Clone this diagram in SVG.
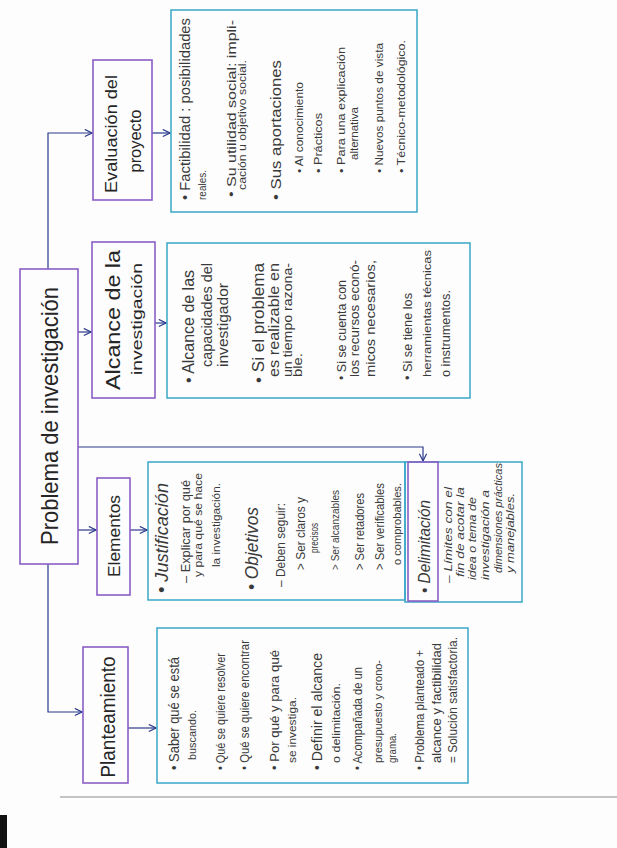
<svg xmlns="http://www.w3.org/2000/svg" width="617" height="848" viewBox="0 0 617 848">
<defs>
<marker id="ah" viewBox="0 0 10 10" refX="9" refY="5" markerWidth="9" markerHeight="9" orient="auto" markerUnits="userSpaceOnUse">
<path d="M1,1 L9,5 L1,9" fill="none" stroke="#2b3a8c" stroke-width="1.3"/>
</marker>
<style>
.pb{fill:none;stroke:#8a5ec4;stroke-width:1.6}
.cb{fill:none;stroke:#3aa6c8;stroke-width:1.5}
.cn{fill:none;stroke:#2b3a8c;stroke-width:1.2}
text{font-family:"Liberation Sans","DejaVu Sans",sans-serif;fill:#3a3a3a}
.t{fill:#262626}
.i{font-style:italic}
</style>
</defs>
<rect x="0" y="0" width="617" height="848" fill="#fdfdfd"/>
<line x1="60" y1="797" x2="617" y2="797" stroke="#c4c4c4" stroke-width="2"/>
<rect x="0" y="815" width="7" height="33" fill="#111"/>

<g id="connectors">
<path class="cn" d="M48,269 V133 H92" marker-end="url(#ah)"/>
<path class="cn" d="M48,564 V712 H82" marker-end="url(#ah)"/>
<path class="cn" d="M78,332 H91" marker-end="url(#ah)"/>
<path class="cn" d="M78,530 H96" marker-end="url(#ah)"/>
<path class="cn" d="M78,447 H423 V461" marker-end="url(#ah)"/>
<path class="cn" d="M152,133 H170" marker-end="url(#ah)"/>
<path class="cn" d="M155,323 H166" marker-end="url(#ah)"/>
<path class="cn" d="M130,530 H147" marker-end="url(#ah)"/>
<path class="cn" d="M128,728 H156" marker-end="url(#ah)"/>
</g>

<g id="problema">
<rect class="pb" x="20" y="269" width="58" height="295"/>
<g transform="rotate(-90)">
<text class="t" x="-416" y="58" font-size="24" text-anchor="middle" textLength="258" lengthAdjust="spacingAndGlyphs">Problema de investigación</text>
</g>
</g>

<g id="evaluacion">
<rect class="pb" x="93" y="60" width="59" height="140"/>
<g transform="rotate(-90)" font-size="16">
<text class="t" x="-134" y="117" text-anchor="middle" textLength="118" lengthAdjust="spacingAndGlyphs">Evaluación del</text>
<text class="t" x="-141" y="141" text-anchor="middle" textLength="63" lengthAdjust="spacingAndGlyphs">proyecto</text>
</g>
</g>

<g id="evaluacion-detalle">
<rect class="cb" x="171" y="10" width="246" height="202"/>
<g transform="rotate(-90)">
<text x="-200" y="190" font-size="14" textLength="182" lengthAdjust="spacingAndGlyphs">• Factibilidad : posibilidades</text>
<text x="-200" y="206" font-size="11" textLength="30" lengthAdjust="spacingAndGlyphs">reales.</text>
<text x="-197" y="236" font-size="13" textLength="177" lengthAdjust="spacingAndGlyphs">• Su utilidad social: impli-</text>
<text x="-190" y="246" font-size="10" textLength="130" lengthAdjust="spacingAndGlyphs">cación u objetivo social.</text>
<text x="-200" y="281" font-size="15" textLength="140" lengthAdjust="spacingAndGlyphs">• Sus aportaciones</text>
<text x="-173" y="303" font-size="11" textLength="91" lengthAdjust="spacingAndGlyphs">• Al conocimiento</text>
<text x="-173" y="322" font-size="11" textLength="60" lengthAdjust="spacingAndGlyphs">• Prácticos</text>
<text x="-173" y="345" font-size="11" textLength="126" lengthAdjust="spacingAndGlyphs">• Para una explicación</text>
<text x="-160" y="358" font-size="10" textLength="53" lengthAdjust="spacingAndGlyphs">alternativa</text>
<text x="-173" y="383" font-size="11" textLength="130" lengthAdjust="spacingAndGlyphs">• Nuevos puntos de vista</text>
<text x="-173" y="405" font-size="11" textLength="133" lengthAdjust="spacingAndGlyphs">• Técnico-metodológico.</text>
</g>
</g>

<g id="alcance">
<rect class="pb" x="92" y="242" width="63" height="156"/>
<g transform="rotate(-90)">
<text class="t" x="-320" y="120" font-size="20" text-anchor="middle" textLength="140" lengthAdjust="spacingAndGlyphs">Alcance de la</text>
<text class="t" x="-319" y="142" font-size="15" text-anchor="middle" textLength="112" lengthAdjust="spacingAndGlyphs">investigación</text>
</g>
</g>

<g id="alcance-detalle">
<rect class="cb" x="167" y="243" width="303" height="155"/>
<g transform="rotate(-90)">
<text x="-383" y="194" font-size="17" textLength="113" lengthAdjust="spacingAndGlyphs">• Alcance de las</text>
<text x="-367" y="212" font-size="14" textLength="104" lengthAdjust="spacingAndGlyphs">capacidades del</text>
<text x="-367" y="228" font-size="14" textLength="84" lengthAdjust="spacingAndGlyphs">investigador</text>
<text x="-383" y="264" font-size="17" textLength="120" lengthAdjust="spacingAndGlyphs">• Si el problema</text>
<text x="-377" y="279" font-size="14" textLength="114" lengthAdjust="spacingAndGlyphs">es realizable en</text>
<text x="-377" y="292" font-size="13" textLength="114" lengthAdjust="spacingAndGlyphs">un tiempo razona-</text>
<text x="-377" y="302" font-size="13" textLength="24" lengthAdjust="spacingAndGlyphs">ble.</text>
<text x="-380" y="346" font-size="13" textLength="100" lengthAdjust="spacingAndGlyphs">• Si se cuenta con</text>
<text x="-377" y="359" font-size="12" textLength="117" lengthAdjust="spacingAndGlyphs">los recursos econó-</text>
<text x="-377" y="375" font-size="12" textLength="117" lengthAdjust="spacingAndGlyphs">micos necesarios,</text>
<text x="-380" y="412" font-size="13" textLength="87" lengthAdjust="spacingAndGlyphs">• Si se tiene los</text>
<text x="-377" y="431" font-size="11" textLength="127" lengthAdjust="spacingAndGlyphs">herramientas técnicas</text>
<text x="-377" y="450" font-size="12" textLength="87" lengthAdjust="spacingAndGlyphs">o instrumentos.</text>
</g>
</g>

<g id="elementos">
<rect class="pb" x="97" y="478" width="33" height="117"/>
<g transform="rotate(-90)">
<text class="t" x="-536" y="120" font-size="17" text-anchor="middle" textLength="82" lengthAdjust="spacingAndGlyphs">Elementos</text>
</g>
</g>

<g id="elementos-detalle">
<rect class="cb" x="148" y="462" width="257" height="138"/>
<g transform="rotate(-90)">
<text class="i" x="-593" y="168" font-size="18" textLength="110" lengthAdjust="spacingAndGlyphs">• Justificación</text>
<text x="-583" y="190" font-size="13" textLength="103" lengthAdjust="spacingAndGlyphs">– Explicar por qué</text>
<text x="-577" y="202" font-size="11" textLength="104" lengthAdjust="spacingAndGlyphs">y para qué se hace</text>
<text x="-567" y="220" font-size="11" textLength="84" lengthAdjust="spacingAndGlyphs">la investigación.</text>
<text class="i" x="-590" y="258" font-size="18" textLength="83" lengthAdjust="spacingAndGlyphs">• Objetivos</text>
<text x="-587" y="285" font-size="13" textLength="84" lengthAdjust="spacingAndGlyphs">– Deben seguir:</text>
<text x="-570" y="305" font-size="12" textLength="73" lengthAdjust="spacingAndGlyphs">&gt; Ser claros y</text>
<text x="-553" y="318" font-size="10" textLength="30" lengthAdjust="spacingAndGlyphs">precisos</text>
<text x="-570" y="339" font-size="11" textLength="80" lengthAdjust="spacingAndGlyphs">&gt; Ser alcanzables</text>
<text x="-570" y="364" font-size="12" textLength="77" lengthAdjust="spacingAndGlyphs">&gt; Ser retadores</text>
<text x="-570" y="384" font-size="12" textLength="87" lengthAdjust="spacingAndGlyphs">&gt; Ser verificables</text>
<text x="-565" y="401" font-size="11" textLength="82" lengthAdjust="spacingAndGlyphs">o comprobables.</text>
</g>
</g>

<g id="delimitacion">
<rect class="cb" x="405" y="462" width="117" height="140"/>
<rect class="pb" x="408" y="462" width="30" height="139"/>
<g transform="rotate(-90)">
<text class="i" x="-593" y="430" font-size="16" textLength="93" lengthAdjust="spacingAndGlyphs">• Delimitación</text>
<text class="i" x="-583" y="452" font-size="11" textLength="96" lengthAdjust="spacingAndGlyphs">– Límites con el</text>
<text class="i" x="-577" y="464" font-size="10" textLength="90" lengthAdjust="spacingAndGlyphs">fin de acotar la</text>
<text class="i" x="-580" y="476" font-size="10" textLength="83" lengthAdjust="spacingAndGlyphs">idea o tema de</text>
<text class="i" x="-580" y="489" font-size="10" textLength="90" lengthAdjust="spacingAndGlyphs">investigación a</text>
<text class="i" x="-573" y="502" font-size="10" textLength="110" lengthAdjust="spacingAndGlyphs">dimensiones prácticas</text>
<text class="i" x="-573" y="514" font-size="10" textLength="80" lengthAdjust="spacingAndGlyphs">y manejables.</text>
</g>
</g>

<g id="planteamiento">
<rect class="pb" x="83" y="647" width="45" height="136"/>
<g transform="rotate(-90)">
<text class="t" x="-717" y="115" font-size="20" text-anchor="middle" textLength="121" lengthAdjust="spacingAndGlyphs">Planteamiento</text>
</g>
</g>

<g id="planteamiento-detalle">
<rect class="cb" x="157" y="628" width="311" height="155"/>
<g transform="rotate(-90)">
<text x="-770" y="179" font-size="15" textLength="113" lengthAdjust="spacingAndGlyphs">• Saber qué se está</text>
<text x="-760" y="196" font-size="11" textLength="50" lengthAdjust="spacingAndGlyphs">buscando.</text>
<text x="-770" y="225" font-size="12" textLength="117" lengthAdjust="spacingAndGlyphs">• Qué se quiere resolver</text>
<text x="-770" y="249" font-size="12" textLength="130" lengthAdjust="spacingAndGlyphs">• Qué se quiere encontrar</text>
<text x="-770" y="279" font-size="13" textLength="120" lengthAdjust="spacingAndGlyphs">• Por qué y para qué</text>
<text x="-763" y="296" font-size="11" textLength="66" lengthAdjust="spacingAndGlyphs">se investiga.</text>
<text x="-770" y="322" font-size="14" textLength="117" lengthAdjust="spacingAndGlyphs">• Definir el alcance</text>
<text x="-763" y="340" font-size="11" textLength="80" lengthAdjust="spacingAndGlyphs">o delimitación.</text>
<text x="-770" y="362" font-size="12" textLength="103" lengthAdjust="spacingAndGlyphs">• Acompañada de un</text>
<text x="-763" y="382" font-size="11" textLength="103" lengthAdjust="spacingAndGlyphs">presupuesto y crono-</text>
<text x="-763" y="396" font-size="11" textLength="30" lengthAdjust="spacingAndGlyphs">grama.</text>
<text x="-770" y="424" font-size="13" textLength="120" lengthAdjust="spacingAndGlyphs">• Problema planteado +</text>
<text x="-763" y="441" font-size="13" textLength="120" lengthAdjust="spacingAndGlyphs">alcance y factibilidad</text>
<text x="-763" y="457" font-size="12" textLength="126" lengthAdjust="spacingAndGlyphs">= Solución satisfactoria.</text>
</g>
</g>
</svg>
